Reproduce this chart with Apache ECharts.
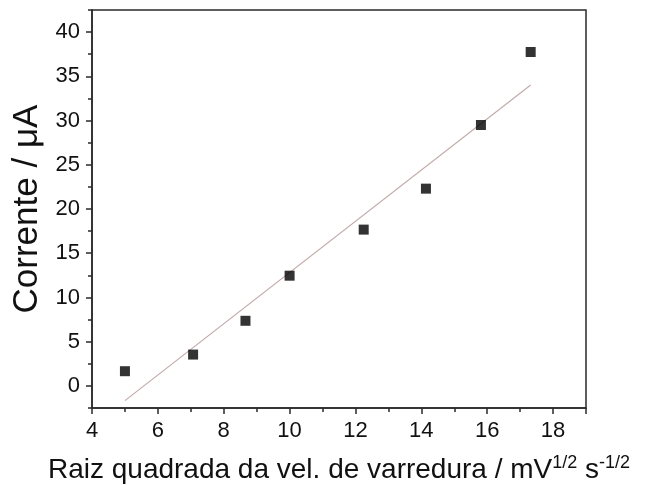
<!DOCTYPE html>
<html>
<head>
<meta charset="utf-8">
<script src="https://cdn.jsdelivr.net/npm/echarts@6/dist/echarts.min.js"></script>
<style>html,body{margin:0;padding:0;background:#fff;}#c{width:654px;height:485px;}</style>
</head>
<body>
<div id="c"></div>
<script>
var xValues = [5.0, 7.07, 8.66, 10.0, 12.25, 14.14, 15.81, 17.32];
var yValues = [1.66, 3.54, 7.36, 12.46, 17.67, 22.3, 29.5, 37.75];
var xTicks = [4, 6, 8, 10, 12, 14, 16, 18];
var yTicks = [0, 5, 10, 15, 20, 25, 30, 35, 40];
var yMinorTicks = [-2.5, 2.5, 7.5, 12.5, 17.5, 22.5, 27.5, 32.5, 37.5, 42.5];

// linear least-squares fit of the data
function fit(xs, ys) {
  var n = xs.length, mx = 0, my = 0;
  for (var i = 0; i < n; i++) { mx += xs[i]; my += ys[i]; }
  mx /= n; my /= n;
  var sxy = 0, sxx = 0;
  for (var j = 0; j < n; j++) { sxy += (xs[j]-mx)*(ys[j]-my); sxx += (xs[j]-mx)*(xs[j]-mx); }
  var b = sxy / sxx, a = my - b * mx;
  return [[xs[0], a + b*xs[0]], [xs[n-1], a + b*xs[n-1]]];
}
var fitLine = fit(xValues, yValues);
var points = xValues.map(function (x, i) { return [x, yValues[i]]; });

var FONT = 'Liberation Sans, Arial, sans-serif';
var axisColor = '#2a2a2a';
var chart = echarts.init(document.getElementById('c'));
chart.setOption({
  animation: false,
  grid: { left: 92, right: 68, top: 10, bottom: 77, outerBoundsMode: 'none', containLabel: false,
    show: true, borderColor: axisColor, borderWidth: 1.5, backgroundColor: 'transparent' },
  xAxis: {
    type: 'value', min: 4, max: 19, interval: 2,
    axisLine: { show: true, onZero: false, lineStyle: { color: axisColor, width: 1.5 } },
    axisTick: { show: true, inside: false, length: 6, lineStyle: { color: axisColor, width: 1.5 } },
    minorTick: { show: true, splitNumber: 2, length: 4, lineStyle: { color: axisColor, width: 1.5 } },
    splitLine: { show: false },
    axisLabel: { fontSize: 22, color: '#111', fontFamily: FONT, margin: 12,
      formatter: function (v) { return xTicks.indexOf(v) >= 0 ? String(v) : ''; } },
    name: 'Raiz quadrada da vel. de varredura / mV{sup|1/2} s{sup|-1/2}',
    nameLocation: 'middle', nameGap: 46,
    nameTextStyle: {
      fontSize: 28, color: '#111', fontFamily: FONT,
      rich: { sup: { fontSize: 18, fontFamily: FONT, color: '#111', verticalAlign: 'bottom', padding: [0, 0, 14, 0] } }
    }
  },
  yAxis: [{
    type: 'value', min: -2.5, max: 42.5,
    axisLine: { show: true, onZero: false, lineStyle: { color: axisColor, width: 1.5 } },
    axisTick: { show: true, inside: false, length: 6, customValues: yTicks, lineStyle: { color: axisColor, width: 1.5 } },
    splitLine: { show: false },
    axisLabel: { fontSize: 22, color: '#111', fontFamily: FONT, margin: 12, customValues: yTicks },
    name: 'Corrente / μA',
    nameLocation: 'middle', nameGap: 44,
    nameTextStyle: { fontSize: 35, color: '#111', fontFamily: FONT }
  }, {
    type: 'value', min: -2.5, max: 42.5, position: 'left',
    axisLine: { show: false },
    axisTick: { show: true, inside: false, length: 4, customValues: yMinorTicks, lineStyle: { color: axisColor, width: 1.5 } },
    axisLabel: { show: false },
    splitLine: { show: false }
  }],
  series: [
    { type: 'line', data: fitLine, showSymbol: false, symbol: 'none',
      lineStyle: { color: '#c4aaaa', width: 1.2 }, z: 2 },
    { type: 'scatter', data: points, symbol: 'rect', symbolSize: 10,
      itemStyle: { color: '#000' }, z: 3 }
  ]
});
</script>
</body>
</html>
